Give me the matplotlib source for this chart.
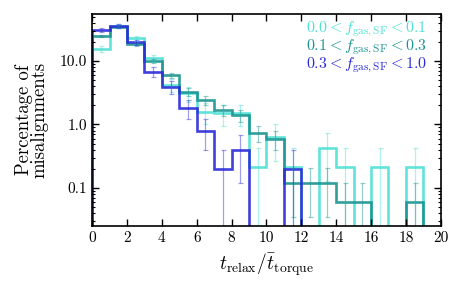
import numpy as np
import matplotlib
matplotlib.use('Agg')
import matplotlib.pyplot as plt
from matplotlib.ticker import FixedLocator, FuncFormatter

plt.rcParams['font.family'] = 'serif'
plt.rcParams['font.serif'] = ['cmr10', 'DejaVu Serif']
plt.rcParams['mathtext.fontset'] = 'cm'
plt.rcParams['axes.unicode_minus'] = False

# bin edges of t_relax / t_torque
bin_edges = np.arange(0, 21, 1)

# percentages per bin (20 bins) and their error bars
pct_low = [15.5, 36.0, 23.0, 11.0, 4.2, 3.1, 1.6, 1.5, 1.5, 0.21,
           0.64, 0.21, 0.0, 0.43, 0.21, 0.0, 0.21, 0.0, 0.21, 0.0]
err_low = [1.8, 2.75, 2.2, 1.5, 0.95, 0.8, 0.58, 0.56, 0.56, 0.21,
           0.37, 0.21, 0.0, 0.3, 0.21, 0.0, 0.21, 0.0, 0.21, 0.0]

pct_mid = [25.0, 35.0, 18.3, 10.0, 6.0, 3.3, 2.4, 1.7, 1.4, 0.73,
           0.59, 0.12, 0.12, 0.12, 0.06, 0.06, 0.0, 0.0, 0.06, 0.0]
err_mid = [1.2, 1.45, 1.05, 0.77, 0.6, 0.44, 0.38, 0.32, 0.29, 0.21,
           0.19, 0.085, 0.085, 0.085, 0.06, 0.06, 0.0, 0.0, 0.06, 0.0]

pct_high = [31.0, 36.0, 19.7, 6.8, 3.9, 1.8, 0.8, 0.2, 0.4, 0.0,
            0.0, 0.2, 0.0, 0.0, 0.0, 0.0, 0.0, 0.0, 0.0, 0.0]
err_high = [2.5, 2.7, 2.0, 1.17, 0.88, 0.6, 0.4, 0.2, 0.28, 0.0,
            0.0, 0.2, 0.0, 0.0, 0.0, 0.0, 0.0, 0.0, 0.0, 0.0]

labels = [r'$0.0 < f_{\rm gas,SF} < 0.1$',
          r'$0.1 < f_{\rm gas,SF} < 0.3$',
          r'$0.3 < f_{\rm gas,SF} < 1.0$']
colors = ['#4fe0d6', '#1a9490', '#2a2ad8']
series = [(pct_low, err_low), (pct_mid, err_mid), (pct_high, err_high)]

fig, ax = plt.subplots(figsize=(4.63, 2.88), dpi=100)
fig.subplots_adjust(left=0.199, right=0.952, bottom=0.215, top=0.951)

centers = 0.5 * (bin_edges[:-1] + bin_edges[1:])
for (pct, err), col in zip(series, colors):
    pct = np.array(pct)
    err = np.array(err)
    ax.stairs(pct, bin_edges, color=col, lw=1.9, alpha=0.9)
    m = pct > 0
    ax.errorbar(centers[m], pct[m], yerr=err[m], fmt='none', ecolor=col,
                elinewidth=0.9, capsize=1.8, capthick=0.9, alpha=0.45)

ax.set_yscale('log')
ax.set_xlim(0, 20)
ax.set_ylim(0.025, 55)
ax.xaxis.set_major_locator(FixedLocator(np.arange(0, 21, 2)))
ax.yaxis.set_major_locator(FixedLocator([0.1, 1.0, 10.0]))
ax.yaxis.set_major_formatter(FuncFormatter(lambda v, p: '%.1f' % v))
ax.tick_params(which='both', direction='in', top=True, right=True, labelsize=11)
ax.tick_params(which='major', length=5, width=1)
ax.tick_params(which='minor', length=2.5, width=0.8)
for s in ax.spines.values():
    s.set_linewidth(1.2)

ax.set_xlabel(r'$t_{\rm relax}/\bar{t}_{\rm torque}$', fontsize=14, labelpad=5)
ax.set_ylabel('Percentage of\nmisalignments', fontsize=13.5, linespacing=0.85,
              labelpad=8)

# coloured legend text, no handles
for lab, col, yy in zip(labels, colors, [0.93, 0.845, 0.76]):
    ax.text(0.96, yy, lab, color=col, fontsize=11.5, ha='right', va='center',
            transform=ax.transAxes)

fig.savefig('out.png', dpi=100)
